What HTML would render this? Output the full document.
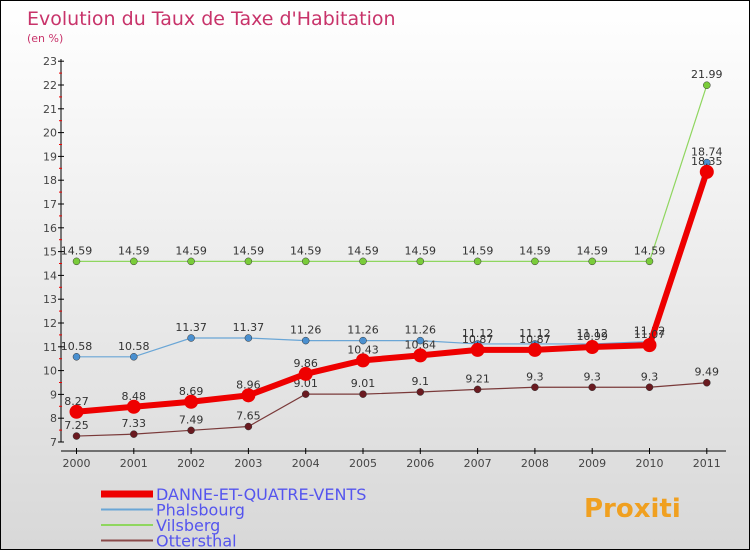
<!DOCTYPE html>
<html><head><meta charset="utf-8"><style>
body{margin:0}
#c{width:750px;height:550px;position:relative;background:linear-gradient(#ffffff,#d8d8d8);box-sizing:border-box;border:1px solid #000;font-family:"DejaVu Sans","Liberation Sans",sans-serif;overflow:hidden}
</style></head><body>
<div id="c">
<svg id="s" width="750" height="550" style="position:absolute;left:0;top:0">
<text x="26" y="24" font-size="19" fill="#c8336a">Evolution du Taux de Taxe d'Habitation</text>
<text x="26" y="41" font-size="11" fill="#c8336a">(en %)</text>
</svg>
</div>
<script>
const years=["2000","2001","2002","2003","2004","2005","2006","2007","2008","2009","2010","2011"];
const danne=[8.27,8.48,8.69,8.96,9.86,10.43,10.64,10.87,10.87,10.99,11.07,18.35];
const phals=[10.58,10.58,11.37,11.37,11.26,11.26,11.26,11.12,11.12,11.12,11.22,18.74];
const vils=[14.59,14.59,14.59,14.59,14.59,14.59,14.59,14.59,14.59,14.59,14.59,21.99];
const otter=[7.25,7.33,7.49,7.65,9.01,9.01,9.1,9.21,9.3,9.3,9.3,9.49];
const yTicks=[7,8,9,10,11,12,13,14,15,16,17,18,19,20,21,22,23];
const s=document.getElementById('s'),NS='http://www.w3.org/2000/svg';
const X=i=>75.5+i*57.3, Y=v=>441-(v-7)*23.8;
function el(t,a,p){const e=document.createElementNS(NS,t);for(const k in a)e.setAttribute(k,a[k]);(p||s).appendChild(e);return e;}
let ax=el('line',{x1:60,y1:58,x2:60,y2:441,stroke:'#000'});

let bx=el('line',{x1:60,y1:450,x2:725,y2:450,stroke:'#000'});

yTicks.forEach(v=>{el('line',{x1:57,x2:63,y1:Y(v),y2:Y(v),stroke:'#000'});
 if(v<23)el('line',{x1:58,x2:61,y1:Y(v+0.5),y2:Y(v+0.5),stroke:'#e00'});
 const t=el('text',{x:56,y:Y(v)+4,'font-size':11,fill:'#444','text-anchor':'end'});t.textContent=v;
 });
years.forEach((y,i)=>{el('line',{x1:X(i),x2:X(i),y1:447,y2:453,stroke:'#000'});
 const t=el('text',{x:X(i),y:466,'font-size':11,fill:'#444','text-anchor':'middle'});t.textContent=y;
 });
function series(d,col,w,r,dot,name){
 const g=el('g',{});
 el('polyline',{points:d.map((v,i)=>X(i)+','+Y(v)).join(' '),fill:'none',stroke:col,'stroke-width':w},g);
 d.forEach((v,i)=>{const c=el('circle',{cx:X(i),cy:Y(v),r:r,fill:dot,stroke:'#333','stroke-width':r>4?0:0.5},g);
  
  const t=el('text',{x:X(i),y:Y(v)-7,'font-size':11,fill:'#333','text-anchor':'middle'},g);t.textContent=v;});
}
series(otter,'#7a3a3a',1.2,3.5,'#6a1a20','ottersthal-series');
series(vils,'#8fd65f',1.2,3.5,'#7acc3a','vilsberg-series');
series(phals,'#6aa6d6',1.2,3.5,'#4a90d0','phalsbourg-series');
series(danne,'#ee0000',6,7,'#ee0000','danne-series');
const leg=[["DANNE-ET-QUATRE-VENTS","#ee0000",7],["Phalsbourg","#6aa6d6",2],["Vilsberg","#8fd65f",2],["Ottersthal","#8a4a4a",2]];
leg.forEach((l,i)=>{const g=el('g',{});
 const yy=493+i*15.5;el('line',{x1:100,x2:152,y1:yy,y2:yy,stroke:l[1],'stroke-width':l[2]},g);
 const t=el('text',{x:155,y:yy+6,'font-size':16,fill:'#5555ee'},g);t.textContent=l[0];});
const p=el('text',{x:583,y:516,'font-size':26,'font-weight':'bold',fill:'#f0a020'});p.textContent='Proxiti';

</script>
</body></html>
